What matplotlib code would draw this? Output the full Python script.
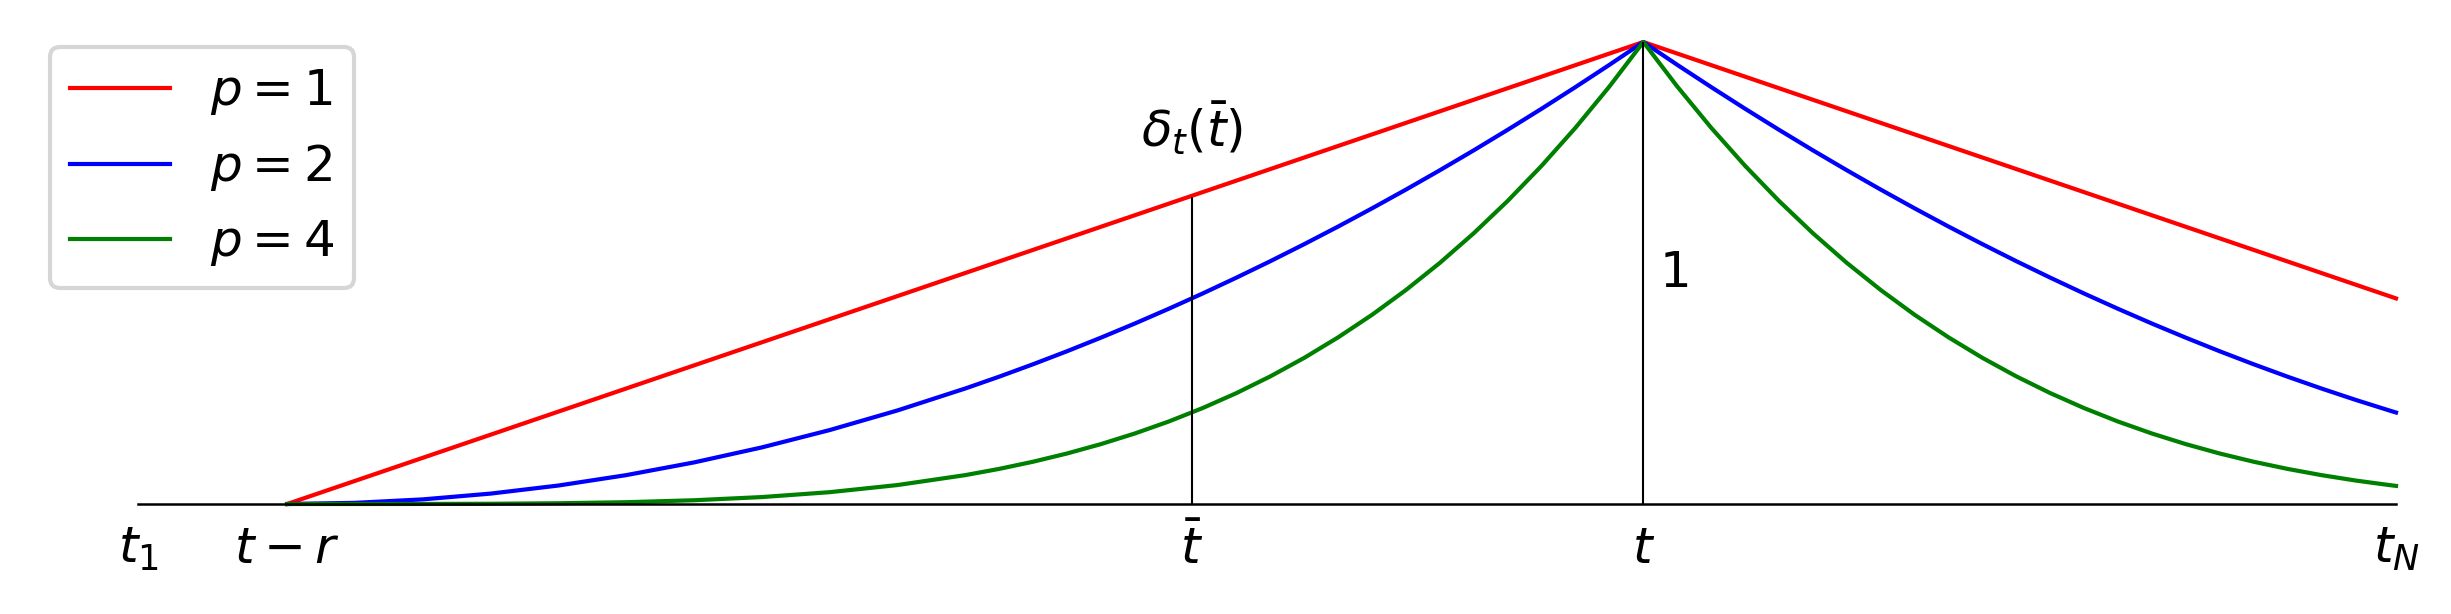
import matplotlib
matplotlib.use('Agg')
import matplotlib.pyplot as plt

# positions on the time axis (t - r = 0, t = 1)
tick_pos = [-0.11, 0.0, 0.667, 1.0, 1.555]
tick_lbls = [r'$t_1$', r'$t-r$', r'$\bar{t}$', r'$t$', r'$t_N$']

# weights, left of t (from t-r up to t)
x_left = [0.0, 0.05, 0.1, 0.15, 0.2, 0.25, 0.3, 0.35, 0.4, 0.45,
          0.5, 0.525, 0.55, 0.575, 0.6, 0.625, 0.65, 0.675, 0.7, 0.725,
          0.75, 0.775, 0.8, 0.825, 0.85, 0.875, 0.9, 0.925, 0.95, 0.975, 1.0]
p1_left = [0.0, 0.05, 0.1, 0.15, 0.2, 0.25, 0.3, 0.35, 0.4, 0.45,
           0.5, 0.525, 0.55, 0.575, 0.6, 0.625, 0.65, 0.675, 0.7, 0.725,
           0.75, 0.775, 0.8, 0.825, 0.85, 0.875, 0.9, 0.925, 0.95, 0.975, 1.0]
p2_left = [0.0, 0.0025, 0.01, 0.0225, 0.04, 0.0625, 0.09, 0.1225, 0.16, 0.2025,
           0.25, 0.2756, 0.3025, 0.3306, 0.36, 0.3906, 0.4225, 0.4556, 0.49, 0.5256,
           0.5625, 0.6006, 0.64, 0.6806, 0.7225, 0.7656, 0.81, 0.8556, 0.9025, 0.9506, 1.0]
p4_left = [0.0, 0.0, 0.0001, 0.0005, 0.0016, 0.0039, 0.0081, 0.0150, 0.0256, 0.0410,
           0.0625, 0.0760, 0.0915, 0.1093, 0.1296, 0.1526, 0.1785, 0.2076, 0.2401, 0.2763,
           0.3164, 0.3608, 0.4096, 0.4633, 0.5220, 0.5862, 0.6561, 0.7321, 0.8145, 0.9037, 1.0]

# right of t, up to t_N
x_right = [1.0, 1.025, 1.05, 1.075, 1.1, 1.125, 1.15, 1.175, 1.2, 1.225, 1.25, 1.275,
           1.3, 1.325, 1.35, 1.375, 1.4, 1.425, 1.45, 1.475, 1.5, 1.525, 1.55, 1.555]
p1_right = [1.0, 0.975, 0.95, 0.925, 0.9, 0.875, 0.85, 0.825, 0.8, 0.775, 0.75, 0.725,
            0.7, 0.675, 0.65, 0.625, 0.6, 0.575, 0.55, 0.525, 0.5, 0.475, 0.45, 0.445]
p2_right = [1.0, 0.9506, 0.9025, 0.8556, 0.81, 0.7656, 0.7225, 0.6806, 0.64, 0.6006, 0.5625, 0.5256,
            0.49, 0.4556, 0.4225, 0.3906, 0.36, 0.3306, 0.3025, 0.2756, 0.25, 0.2256, 0.2025, 0.198]
p4_right = [1.0, 0.9037, 0.8145, 0.7321, 0.6561, 0.5862, 0.5220, 0.4633, 0.4096, 0.3608, 0.3164, 0.2763,
            0.2401, 0.2076, 0.1785, 0.1526, 0.1296, 0.1093, 0.0915, 0.0760, 0.0625, 0.0509, 0.0410, 0.0392]

t_bar = 0.667
delta_tbar = 0.665

fig = plt.figure(figsize=(2451/300, 614/300), dpi=300)
ax = fig.add_axes([138/2451, 110/614, 2258/2451, 462/614])

xs = x_left + x_right[1:]
ax.plot(xs, p1_left + p1_right[1:], color='red', lw=1, label=r'$p=1$', clip_on=False)
ax.plot(xs, p2_left + p2_right[1:], color='blue', lw=1, label=r'$p=2$', clip_on=False)
ax.plot(xs, p4_left + p4_right[1:], color='green', lw=1, label=r'$p=4$', clip_on=False)

ax.vlines(t_bar, 0, delta_tbar, color='black', lw=0.5)
ax.vlines(1.0, 0, 1.0, color='black', lw=0.5)
ax.text(t_bar, 0.75, r'$\delta_t(\bar{t})$', ha='center', va='bottom', fontsize=12)
ax.text(1.012, 0.5, '1', ha='left', va='center', fontsize=12)

ax.set_xlim(tick_pos[0], tick_pos[-1])
ax.set_ylim(0, 1)
for s in ['top', 'right', 'left']:
    ax.spines[s].set_visible(False)
ax.spines['bottom'].set_linewidth(0.6)
ax.set_yticks([])
ax.set_xticks(tick_pos, tick_lbls, fontsize=12)
ax.tick_params(axis='x', length=0, pad=5)

ax.legend(loc='upper left', bbox_to_anchor=(50/2451, 1 - 47/614), bbox_transform=fig.transFigure,
          borderaxespad=0, fontsize=12)

fig.savefig('out.png', dpi=300)
